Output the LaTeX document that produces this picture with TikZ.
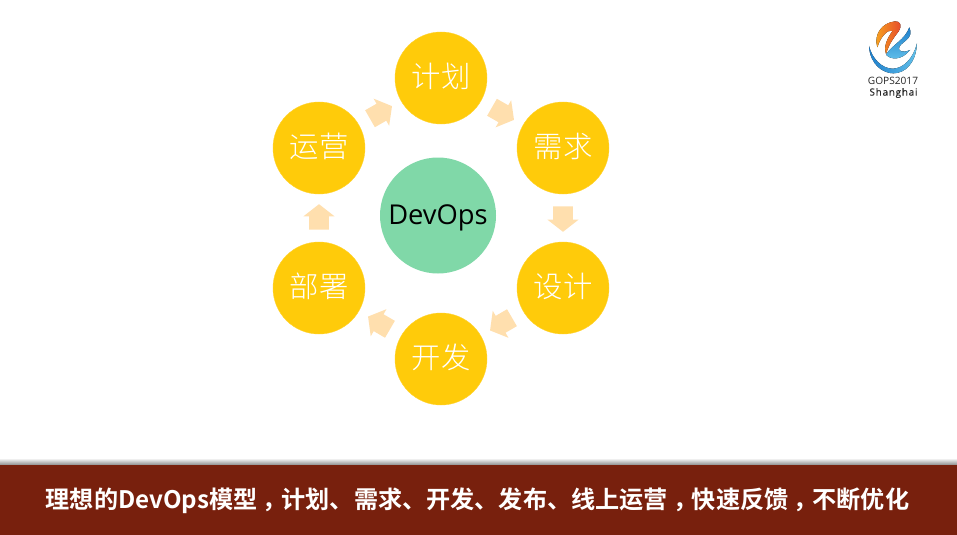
\documentclass[tikz,border=0pt]{standalone}
\usepackage{fontspec}
\usetikzlibrary{shapes.arrows}
\setmainfont{Noto Sans CJK SC Light}
\newfontfamily\latinface{Open Sans}
\newfontfamily\barface{Noto Sans CJK SC}[BoldFont={Noto Sans CJK SC Bold}]
\definecolor{stagefill}{HTML}{FFCB0A}
\definecolor{corefill}{HTML}{80D8A8}
\definecolor{flowfill}{HTML}{FFDFAE}
\definecolor{barfill}{HTML}{78200D}
\definecolor{emblemdeep}{HTML}{1E7FCC}
\definecolor{emblemsky}{HTML}{62C0EA}
\definecolor{emblemgold}{HTML}{F8A91F}
\definecolor{emblemred}{HTML}{E5452C}
\newcommand{\barcomma}{\kern4pt ，\kern-4pt}
\tikzset{
  stage/.style={circle,fill=stagefill,draw=stagefill!85!white,line width=.3pt,minimum size=69pt,inner sep=0pt,
    text=white,text height=18pt,text depth=3.4pt,font=\fontsize{22}{26}\selectfont},
  core/.style={circle,fill=corefill,minimum size=87pt,inner sep=0pt,text=black,
    text height=18pt,text depth=4.4pt,font=\latinface\fontsize{20.5}{24}\selectfont},
  flow/.style={single arrow,fill=flowfill,draw=none,inner sep=0pt,minimum height=19pt,
    text height=14.25pt,text depth=0pt,text width=0pt,
    single arrow head extend=4.4pt,single arrow tip angle=104,single arrow head indent=0pt,
    sloped,allow upside down,midway,xshift=-2pt}
}
\begin{document}
\begin{tikzpicture}[x=.75pt,y=-.75pt]
\useasboundingbox (0,0) rectangle (957,535);
\fill[white] (0,0) rectangle (957,535);

% ring of stages around the core
\node[core]  (core) at (438,215.5) {DevOps};
\node[stage] (plan) at (441,78)  {计划};
\node[stage] (req)  at (563,148) {需求};
\node[stage] (des)  at (563,288) {设计};
\node[stage] (dev)  at (441,359) {开发};
\node[stage] (dep)  at (319,288) {部署};
\node[stage] (ops)  at (319,148) {运营};

% block arrows between neighbouring stages
\path (ops)  -- node[flow] (a1) {} (plan);
\path (plan) -- node[flow] (a2) {} (req);
\path (req)  -- node[flow] (a3) {} (des);
\path (des)  -- node[flow] (a4) {} (dev);
\path (dev)  -- node[flow] (a5) {} (dep);
\path (dep)  -- node[flow] (a6) {} (ops);

% footer band with its soft upper shadow
\fill[top color=white,bottom color=black!45] (0,458) rectangle (957,465);
\fill[barfill] (0,465) rectangle (957,535);
\node[anchor=center,inner sep=0pt,text=white,font=\barface\bfseries\fontsize{18.1}{22}\selectfont] (caption) at (477.5,501)
  {理想的DevOps模型\barcomma 计划、需求、开发、发布、线上运营\barcomma 快速反馈\barcomma 不断优化};

% conference emblem
\begin{scope}[shift={(850,10)},x=.25pt,y=-.25pt]
  \fill[left color=emblemdeep,right color=emblemsky] (57,108) .. controls (60,165) and (100,190) .. (130,190)
     .. controls (165,190) and (198,160) .. (201,100)
     .. controls (190,145) and (160,176) .. (128,176)
     .. controls (95,176) and (66,145) .. (57,108) -- cycle;
  \fill[left color=emblemgold,right color=emblemred] (82,112) .. controls (70,75) and (95,38) .. (135,34)
     .. controls (150,32) and (158,48) .. (146,64)
     .. controls (130,85) and (118,100) .. (108,132)
     .. controls (100,108) and (112,85) .. (128,62)
     .. controls (112,58) and (92,80) .. (82,112) -- cycle;
  \fill[top color=emblemdeep,bottom color=emblemsky] (178,52) .. controls (192,85) and (160,92) .. (148,110)
     .. controls (142,124) and (158,130) .. (180,120)
     .. controls (155,152) and (122,150) .. (108,134)
     .. controls (125,105) and (165,90) .. (178,52) -- cycle;
\end{scope}
\node[inner sep=0pt,font=\latinface\fontsize{7.6}{9}\selectfont,text=black!85] (brand) at (893,81) {GOPS2017};
\node[inner sep=0pt,font=\latinface\fontsize{7.4}{9}\selectfont\addfontfeature{LetterSpace=8,FakeBold=.3},text=black!85] (city) at (893.5,93) {Shanghai};
\end{tikzpicture}
\end{document}
